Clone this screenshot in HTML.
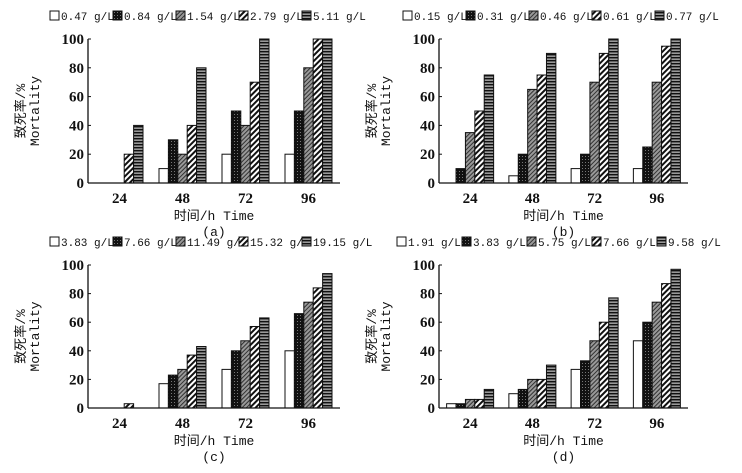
<!DOCTYPE html>
<html><head><meta charset="utf-8"><style>
body{margin:0;background:#fff}
svg text{font-family:"Liberation Mono","Noto Sans CJK SC",monospace;fill:#111}
.tk{font-family:"Liberation Serif",serif;font-weight:bold;font-size:15px}
</style></head><body>
<svg id="c" width="742" height="468" viewBox="0 0 742 468" xmlns="http://www.w3.org/2000/svg">
<defs>
<pattern id="p2" width="3" height="3" patternUnits="userSpaceOnUse"><rect width="3" height="3" fill="#111"/><rect width="1" height="1" fill="#777"/></pattern>
<pattern id="p3" width="3" height="3" patternUnits="userSpaceOnUse" patternTransform="rotate(45)"><rect width="3" height="3" fill="#999"/><rect width="1" height="3" fill="#333"/></pattern>
<pattern id="p4" width="4" height="4" patternUnits="userSpaceOnUse" patternTransform="rotate(45)"><rect width="4" height="4" fill="#fff"/><rect width="2" height="4" fill="#111"/></pattern>
<pattern id="p5" width="4" height="3" patternUnits="userSpaceOnUse"><rect width="4" height="3" fill="#999"/><rect width="4" height="1.4" fill="#111"/></pattern>
</defs>
</svg>
<script>
const categories=["24","48","72","96"];
const yTicks=[0,20,40,60,80,100];
const legendA=["0.47 g/L","0.84 g/L","1.54 g/L","2.79 g/L","5.11 g/L"];
const legendB=["0.15 g/L","0.31 g/L","0.46 g/L","0.61 g/L","0.77 g/L"];
const legendC=["3.83 g/L","7.66 g/L","11.49 g/L","15.32 g/L","19.15 g/L"];
const legendD=["1.91 g/L","3.83 g/L","5.75 g/L","7.66 g/L","9.58 g/L"];
const seriesA=[[0,10,20,20],[0,30,50,50],[0,20,40,80],[20,40,70,100],[40,80,100,100]];
const seriesB=[[0,5,10,10],[10,20,20,25],[35,65,70,70],[50,75,90,95],[75,90,100,100]];
const seriesC=[[0,17,27,40],[0,23,40,66],[0,27,47,74],[3,37,57,84],[0,43,63,94]];
const seriesD=[[3,10,27,47],[3,13,33,60],[6,20,47,74],[6,20,60,87],[13,30,77,97]];
const panelLabels=["(a)","(b)","(c)","(d)"];
const fills=["#fff","url(#p2)","url(#p3)","url(#p4)","url(#p5)"];
const svg=document.getElementById('c');
const NS="http://www.w3.org/2000/svg";
function mk(t,a,p){const e=document.createElementNS(NS,t);for(const k in a)e.setAttribute(k,a[k]);(p||svg).appendChild(e);return e;}
const panels=[
 {x0:88,x1:340,y0:183,y1:39,lx:50,ly:20,s:seriesA,l:legendA,lw:63},
 {x0:439,x1:688,y0:183,y1:39,lx:403,ly:20,s:seriesB,l:legendB,lw:63},
 {x0:88,x1:340,y0:408,y1:265,lx:50,ly:246,s:seriesC,l:legendC,lw:63},
 {x0:439,x1:688,y0:408,y1:265,lx:397,ly:246,s:seriesD,l:legendD,lw:65}];
panels.forEach((P,pi)=>{
 const g=mk('g',{});
 
 
 const ys=v=>P.y0+(P.y1-P.y0)*v/100;
 const slot=(P.x1-P.x0)/categories.length;
 const bw=9.4;
 P.l.forEach((t,i)=>{
  const x=P.lx+i*P.lw;
  const r=mk('rect',{x:x,y:P.ly-9,width:9,height:9,fill:fills[i],stroke:'#111','stroke-width':1},g);
  
  
  const tx=mk('text',{x:x+11,y:P.ly,'font-size':11},g);tx.textContent=t;
  
  
 });
 P.s.forEach((ser,si)=>{ser.forEach((v,ci)=>{
  const cx=P.x0+slot*(ci+0.5);
  const x=cx-bw*2.5+si*bw;
  const h=P.y0-ys(v);
  if(v<=0)return;
  const b=mk('rect',{x:x,y:ys(v),width:bw,height:h,fill:fills[si],stroke:'#111','stroke-width':1},g);
  
  
 });});
 mk('line',{x1:P.x0,y1:P.y1,x2:P.x0,y2:P.y0,stroke:'#111','stroke-width':1.3},g);
 mk('line',{x1:P.x0,y1:P.y0,x2:P.x1,y2:P.y0,stroke:'#111','stroke-width':1.3},g);
 yTicks.forEach(t=>{
  mk('line',{x1:P.x0,y1:ys(t),x2:P.x0+3,y2:ys(t),stroke:'#111'},g);
  const tx=mk('text',{x:P.x0-4,y:ys(t)+5,'text-anchor':'end',class:'tk'},g);tx.textContent=t;
  
  
 });
 categories.forEach((c,ci)=>{
  const tx=mk('text',{x:P.x0+slot*(ci+0.5),y:P.y0+20,'text-anchor':'middle',class:'tk'},g);tx.textContent=c;
  
  
 });
 const mid=(P.x0+P.x1)/2;
 const xt=mk('text',{x:mid,y:P.y0+37,'text-anchor':'middle','font-size':13},g);xt.textContent="时间/h Time";
 
 
 const pl=mk('text',{x:mid,y:P.y0+53,'text-anchor':'middle','font-size':13},g);pl.textContent=panelLabels[pi];
 
 
 const yc=(P.y0+P.y1)/2;
 const yt=mk('text',{transform:`translate(${P.x0-63},${yc}) rotate(-90)`,'text-anchor':'middle','font-size':13},g);yt.textContent="致死率/%";
 
 
 const yt2=mk('text',{transform:`translate(${P.x0-49},${yc}) rotate(-90)`,'text-anchor':'middle','font-size':13},g);yt2.textContent="Mortality";
 
 
});
</script>
</body></html>
